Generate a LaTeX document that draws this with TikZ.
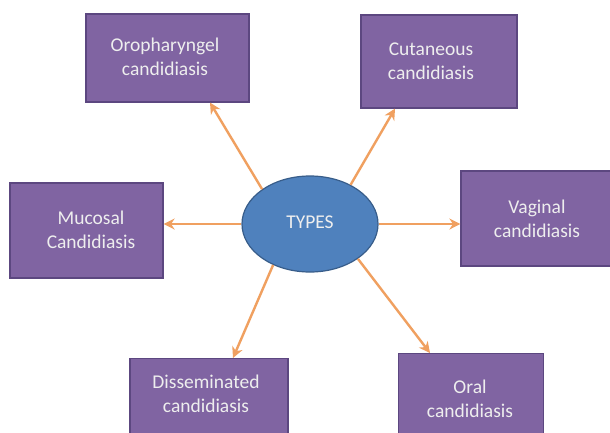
\documentclass[tikz,border=0pt]{standalone}
\usepackage{fontspec}
\setmainfont{Carlito}
\usetikzlibrary{shapes.geometric,arrows.meta}
\definecolor{boxfill}{HTML}{8064A2}
\definecolor{boxline}{HTML}{5C4780}
\definecolor{ellfill}{HTML}{4F81BD}
\definecolor{ellline}{HTML}{385D8A}
\definecolor{arrowc}{HTML}{F0A060}
\definecolor{txt}{HTML}{EEEEEE}
\tikzset{
  lbl/.style={text=txt, font=\fontsize{19.5}{24}\selectfont, align=center},
  typebox/.style={draw=boxline, line width=1.2pt, fill=boxfill},
  conn/.style={draw=arrowc, line width=2.4pt, -{Stealth[length=11pt,width=11pt]}}
}
\begin{document}
\begin{tikzpicture}[x=1pt,y=-1pt]
\useasboundingbox (0,0) rectangle (610,432);
\fill[white] (0,0) rectangle (610,432);
% boxes
\node[typebox, minimum width=163pt, minimum height=88pt] (oro) at (167.5,58) {};
\node[lbl] (orotext) at (165,57) {Oropharyngel\\candidiasis};
\node[typebox, minimum width=156pt, minimum height=93pt] (cut) at (439,61.5) {};
\node[lbl] (cuttext) at (431,61) {Cutaneous\\candidiasis};
\node[typebox, minimum width=153pt, minimum height=95pt] (muc) at (86.5,230.5) {};
\node[lbl] (muctext) at (91,230) {Mucosal\\Candidiasis};
\node[typebox, minimum width=150pt, minimum height=95pt] (vag) at (536,218.5) {};
\node[lbl] (vagtext) at (537,219) {Vaginal\\candidiasis};
\node[typebox, minimum width=158pt, minimum height=95pt, anchor=north] (dis) at (209,358) {};
\node[lbl] (distext) at (206,394) {Disseminated\\candidiasis};
\node[typebox, minimum width=145pt, minimum height=95pt, anchor=north] (oral) at (471,353) {};
\node[lbl] (oraltext) at (470,399) {Oral\\candidiasis};
% ellipse
\node[ellipse, draw=ellline, line width=1.2pt, fill=ellfill, minimum width=136pt, minimum height=96pt] (types) at (310,224) {};
\node[lbl] (typestext) at (310,222) {TYPES};
% connectors
\draw[conn] (types.144) -- (oro.south -| 210,0);
\draw[conn] (types.44) -- (cut.south -| 395,0);
\draw[conn] (types.west) -- (muc.east |- types.west);
\draw[conn] (types.east) -- (vag.west |- types.east);
\draw[conn] (types.-132) -- (dis.north -| 233,0);
\draw[conn] (types.-36) -- (oral.north -| 430,0);
\end{tikzpicture}
\end{document}
